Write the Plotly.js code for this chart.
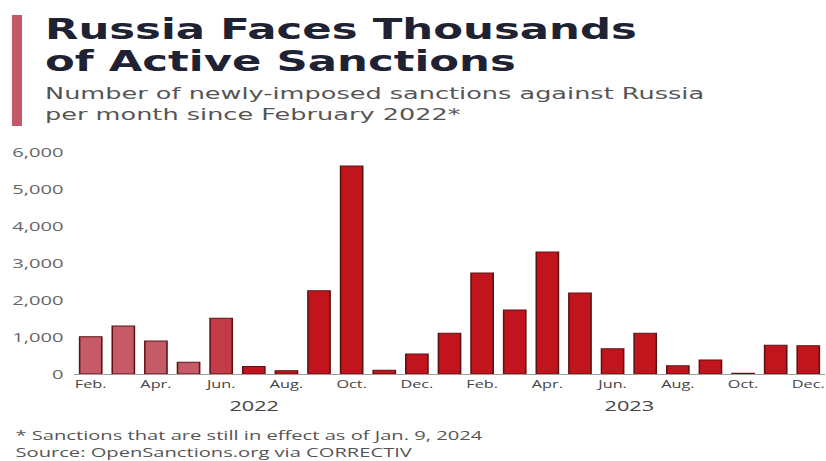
<!DOCTYPE html>
<html><head><meta charset="utf-8">
<script src="https://cdn.plot.ly/plotly-3.0.1.min.js"></script>
<style>html,body{margin:0;padding:0;background:#fff;overflow:hidden;}
#chart{width:533px;height:461px;transform:scaleX(1.55);transform-origin:0 0;}</style>
</head><body><div id="chart"></div>
<script>
const months = ["Feb. 2022","Mar. 2022","Apr. 2022","May 2022","Jun. 2022","Jul. 2022","Aug. 2022","Sep. 2022","Oct. 2022","Nov. 2022","Dec. 2022",
  "Jan. 2023","Feb. 2023","Mar. 2023","Apr. 2023","May 2023","Jun. 2023","Jul. 2023","Aug. 2023","Sep. 2023","Oct. 2023","Nov. 2023","Dec. 2023"];
const sanctions = [1010,1300,890,320,1510,200,90,2250,5620,100,540,1100,2730,1730,3300,2190,680,1100,220,380,20,780,765];
const tickMonths = ["Feb.","Apr.","Jun.","Aug.","Oct.","Dec.","Feb.","Apr.","Jun.","Aug.","Oct.","Dec."];
const tickIdx = [0,2,4,6,8,10,12,14,16,18,20,22];
const yTicks = [0,1000,2000,3000,4000,5000,6000];
const yearLabels = ["2022","2023"];
const yearPos = [5,16.5];
const titleLines = ["<b>Russia Faces Thousands</b>","<b>of Active Sanctions</b>"];
const subtitleLines = ["Number of newly-imposed sanctions against Russia","per month since February 2022*"];
const notes = ["* Sanctions that are still in effect as of Jan. 9, 2024","Source: OpenSanctions.org via CORRECTIV"];

const colors = sanctions.map((v,i)=> i<4 ? "#c65a66" : (i===4 ? "#c43a46" : "#c2141c"));
const xs = months.map((m,i)=>i);

const trace = {type:"bar", x:xs, y:sanctions, text:months, textposition:"none", hoverinfo:"text+y",
  marker:{color:colors, line:{color:"#5c1212", width:1}}, width:0.68};

const L = 48, PW = 484, T = 152, PH = 222;
const px = u => (u - L)/PW;          // unscaled x pixel -> paper
const py = v => (T + PH - v)/PH;      // page y pixel -> paper

const ann = [];
ann.push({x:px(26.5), y:py(29), text:titleLines[0], font:{family:"DejaVu Sans, sans-serif", size:28, color:"#1e2233"}});
ann.push({x:px(26.5), y:py(62), text:titleLines[1], font:{family:"DejaVu Sans, sans-serif", size:28, color:"#1e2233"}});
ann.push({x:px(27), y:py(93), text:subtitleLines[0], font:{family:"DejaVu Sans, sans-serif", size:16.5, color:"#555"}});
ann.push({x:px(27), y:py(114), text:subtitleLines[1], font:{family:"DejaVu Sans, sans-serif", size:16.5, color:"#555"}});
ann.push({x:px(8), y:py(443), text:notes.join("<br>"), align:"left", font:{size:13, color:"#555"}});
ann.forEach(a=>{a.xref="paper"; a.yref="paper"; a.xanchor="left"; a.yanchor="middle"; a.showarrow=false;});
yearLabels.forEach((t,i)=>ann.push({xref:"x", yref:"paper", x:yearPos[i], y:py(405), yanchor:"middle", showarrow:false, text:t, font:{size:14,color:"#444"}}));

const layout = {
  width:533, height:461, margin:{l:L,r:1,t:T,b:87},
  paper_bgcolor:"#fff", plot_bgcolor:"#fff", showlegend:false,
  separators:".,",
  font:{family:"Open Sans, sans-serif", color:"#555"},
  xaxis:{range:[-0.5,22.5], tickvals:tickIdx, ticktext:tickMonths, showgrid:false, zeroline:false,
    showline:true, linecolor:"#9aa0a0", linewidth:1, ticks:"", tickfont:{size:10.5,color:"#444"}, fixedrange:true},
  yaxis:{range:[0,6000], tickvals:yTicks, tickformat:",d", showgrid:false, zeroline:false,
    showline:false, ticks:"", tickfont:{size:13,color:"#666"}, ticklabelstandoff:6, fixedrange:true},
  shapes:[{type:"rect", xref:"paper", yref:"paper", x0:px(7.7), x1:px(14.2), y0:py(15), y1:py(126),
    fillcolor:"#c45868", line:{width:0}}],
  annotations:ann
};
Plotly.newPlot("chart",[trace],layout,{displayModeBar:false, staticPlot:true});
</script></body></html>
